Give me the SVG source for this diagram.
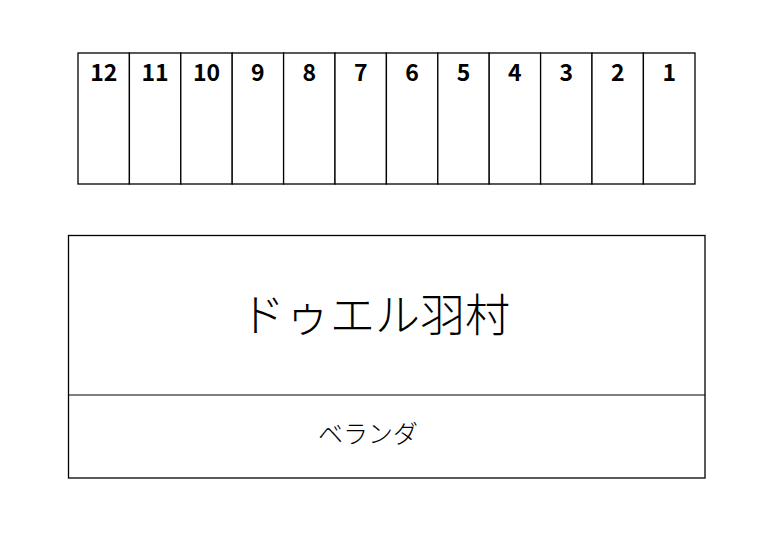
<svg xmlns="http://www.w3.org/2000/svg" width="781" height="554" viewBox="0 0 781 554">
<style>
.c{fill:#fff;stroke:#000;stroke-width:1.3}
.n{font-family:"Noto Sans CJK JP","Noto Sans",sans-serif;font-weight:bold;font-size:23px;text-anchor:middle}
.j{font-family:"Noto Sans CJK JP",sans-serif;font-weight:300;text-anchor:middle}
</style>
<rect width="781" height="554" fill="#fff"/>
<g id="units">
<g id="u12"><rect class="c" x="78" y="53" width="51.4" height="131"/><text class="n" x="103.7" y="81">12</text></g>
<g id="u11"><rect class="c" x="129.4" y="53" width="51.4" height="131"/><text class="n" x="155.1" y="81">11</text></g>
<g id="u10"><rect class="c" x="180.8" y="53" width="51.4" height="131"/><text class="n" x="206.5" y="81">10</text></g>
<g id="u9"><rect class="c" x="232.2" y="53" width="51.4" height="131"/><text class="n" x="257.9" y="81">9</text></g>
<g id="u8"><rect class="c" x="283.6" y="53" width="51.4" height="131"/><text class="n" x="309.3" y="81">8</text></g>
<g id="u7"><rect class="c" x="335" y="53" width="51.4" height="131"/><text class="n" x="360.7" y="81">7</text></g>
<g id="u6"><rect class="c" x="386.4" y="53" width="51.4" height="131"/><text class="n" x="412.1" y="81">6</text></g>
<g id="u5"><rect class="c" x="437.8" y="53" width="51.4" height="131"/><text class="n" x="463.5" y="81">5</text></g>
<g id="u4"><rect class="c" x="489.2" y="53" width="51.4" height="131"/><text class="n" x="514.9" y="81">4</text></g>
<g id="u3"><rect class="c" x="540.6" y="53" width="51.4" height="131"/><text class="n" x="566.3" y="81">3</text></g>
<g id="u2"><rect class="c" x="592" y="53" width="51.4" height="131"/><text class="n" x="617.7" y="81">2</text></g>
<g id="u1"><rect class="c" x="643.4" y="53" width="51.6" height="131"/><text class="n" x="669.2" y="81">1</text></g>
</g>
<g id="building">
<rect class="c" x="68.5" y="235.5" width="636.5" height="242.5"/>
<text class="j" x="375" y="332" font-size="45">ドゥエル羽村</text>
</g>
<g id="veranda">
<line x1="68.5" y1="395" x2="705" y2="395" stroke="#000" stroke-width="1.2"/>
<text class="j" x="368" y="443" font-size="25">ベランダ</text>
</g>
</svg>
